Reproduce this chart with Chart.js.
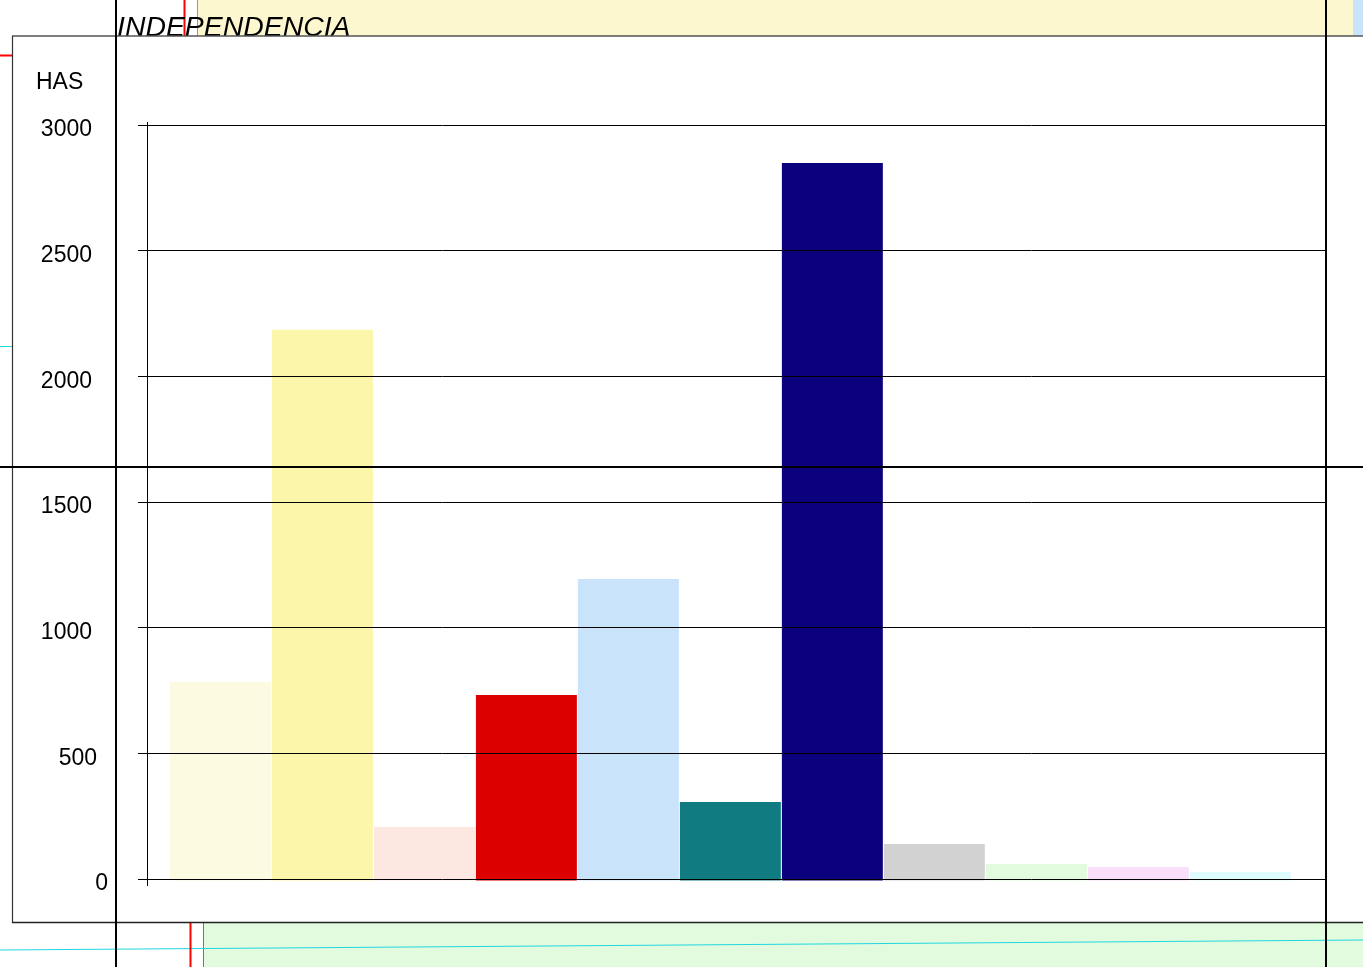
<!DOCTYPE html>
<html>
<head>
<meta charset="utf-8">
<title>INDEPENDENCIA</title>
<script src="https://cdn.jsdelivr.net/npm/chart.js@4/dist/chart.umd.min.js"></script>
<style>
    html, body { margin: 0; padding: 0; background: #fff; overflow: hidden; }
    canvas { display: block; }
</style>
</head>
<body>
<canvas id="hasChart" width="1363" height="967"></canvas>
<script>
const titleText = "INDEPENDENCIA";
const unitLabel = "HAS";
const categories = ["1", "2", "3", "4", "5", "6", "7", "8", "9", "10", "11"];
const hasValues = [784, 2185, 207, 732, 1194, 306, 2849, 139, 60, 48, 28];
const barColors = [
    "#fcfae1", "#fcf6aa", "#fce8e0", "#dc0000", "#c9e4fa", "#107c82",
    "#0b007d", "#d2d2d2", "#e2fbdf", "#f9dff9", "#dffcfc"
];
const yTicks = [0, 500, 1000, 1500, 2000, 2500, 3000];
// right edge of each tick label, the source does not line them up
const tickLabelRight = { 1: 108, 3: 97, 4: 92 };

const fontFamily = '"Liberation Sans", Arial, sans-serif';

function line(ctx, x1, y1, x2, y2, color, width) {
    ctx.strokeStyle = color;
    ctx.lineWidth = width;
    ctx.beginPath();
    ctx.moveTo(x1, y1);
    ctx.lineTo(x2, y2);
    ctx.stroke();
}

// pieces of the map that sit behind the chart panel
const mapBackground = {
    id: "mapBackground",
    beforeDraw(chart) {
        const ctx = chart.ctx;
        ctx.save();
        ctx.fillStyle = "#ffffff";
        ctx.fillRect(0, 0, 1363, 967);
        ctx.fillStyle = "#fdf7cf";
        ctx.fillRect(197, 0, 1156, 36);
        ctx.fillStyle = "#c9e4fa";
        ctx.fillRect(1353, 0, 10, 36);
        ctx.fillStyle = "#e2fbdf";
        ctx.fillRect(203, 923, 1160, 44);
        line(ctx, 197.5, 0, 197.5, 36, "#999999", 1);
        line(ctx, 203.5, 923, 203.5, 967, "#777777", 1);
        line(ctx, 0, 950, 1363, 940, "#1fd8e0", 1);
        line(ctx, 184.5, 0, 184.5, 36, "#ff0000", 2);
        line(ctx, 190.5, 923, 190.5, 967, "#ff0000", 2);
        line(ctx, 0, 55.5, 12, 55.5, "#ff0000", 2);
        line(ctx, 0, 346.5, 12, 346.5, "#1fd8e0", 1);

        ctx.fillStyle = "#000000";
        ctx.font = "italic 28.4px " + fontFamily;
        ctx.textAlign = "left";
        ctx.textBaseline = "alphabetic";
        ctx.fillText(titleText, 117, 36);

        // white panel the chart is printed on
        ctx.fillStyle = "#ffffff";
        ctx.fillRect(12, 36, 1351, 887);
        line(ctx, 12, 36, 1363, 36, "#555555", 1.5);
        line(ctx, 12.5, 36, 12.5, 923, "#333333", 1.2);
        line(ctx, 12, 922.5, 1363, 922.5, "#222222", 1.4);
        ctx.restore();
    }
};

const overlayLines = {
    id: "overlayLines",
    afterDraw(chart) {
        const ctx = chart.ctx;
        const yScale = chart.scales.y;
        const area = chart.chartArea;
        ctx.save();

        // y axis runs a little past both ends of the scale
        line(ctx, area.left - 0.5, area.top - 3, area.left - 0.5, area.bottom + 7, "#000000", 1);

        ctx.fillStyle = "#000000";
        ctx.font = "23px " + fontFamily;
        ctx.textBaseline = "middle";
        ctx.textAlign = "right";
        yScale.ticks.forEach((tick) => {
            const label = String(tick.value);
            ctx.fillText(label, tickLabelRight[label.length], yScale.getPixelForValue(tick.value) + 5);
        });
        ctx.textAlign = "left";
        ctx.fillText(unitLabel, 36, 83);

        // frame lines crossing the whole page
        line(ctx, 116, 0, 116, 967, "#000000", 2);
        line(ctx, 1326, 0, 1326, 967, "#000000", 2);
        line(ctx, 0, 467, 1363, 467, "#000000", 2);
        ctx.restore();
    }
};

new Chart(document.getElementById("hasChart"), {
    type: "bar",
    data: {
        datasets: [
            {
                label: unitLabel,
                data: categories.map((name, i) => ({ x: i, y: hasValues[i] })),
                backgroundColor: barColors,
                borderWidth: 0,
                barPercentage: 0.99,
                categoryPercentage: 1,
                base: -6,
                clip: false,
            },
        ],
    },
    options: {
        responsive: false,
        animation: false,
        events: [],
        layout: { padding: { top: 125, right: 37, bottom: 88, left: 0 } },
        plugins: {
            legend: { display: false },
            title: { display: false },
            tooltip: { enabled: false },
        },
        scales: {
            x: {
                type: "linear",
                display: false,
                offset: false,
                min: -0.71,
                max: 10.84,
                // whole positions only, so the bars get a full slot each
                afterBuildTicks: (scale) => {
                    scale.ticks = categories.map((name, i) => ({ value: i }));
                },
            },
            y: {
                min: 0,
                max: 3000,
                afterBuildTicks: (scale) => {
                    scale.ticks = yTicks.map((value) => ({ value }));
                },
                afterFit: (scale) => {
                    scale.width = 148;
                },
                border: { display: false },
                grid: {
                    color: "#000000",
                    lineWidth: 1,
                    tickLength: 10,
                    z: 1,
                },
                ticks: { display: false },
            },
        },
    },
    plugins: [mapBackground, overlayLines],
});
</script>
</body>
</html>
